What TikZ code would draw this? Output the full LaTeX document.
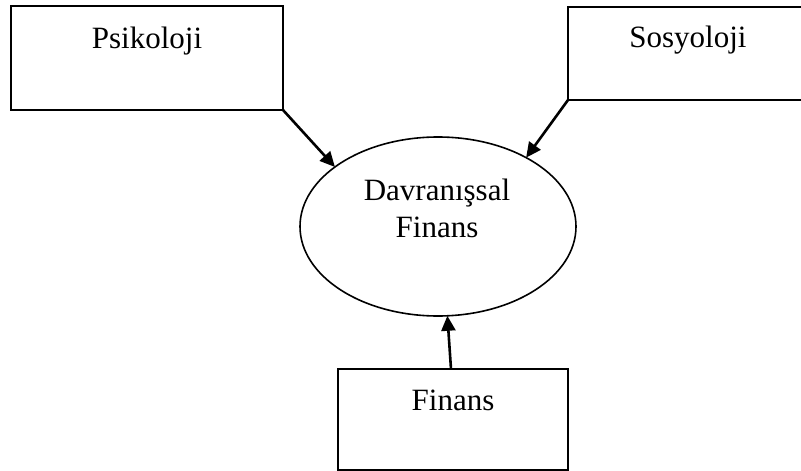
\documentclass[tikz,border=0pt]{standalone}
\usepackage{fontspec}
\setmainfont{Liberation Serif}
\usetikzlibrary{shapes.geometric,arrows.meta}
\begin{document}
\begin{tikzpicture}[x=1pt,y=-1pt,
  every node/.style={inner sep=0pt,outer sep=0pt},
  label/.style={font=\fontsize{31}{37}\selectfont,anchor=base},
  box/.style={draw,line width=2pt,rectangle},
  oval/.style={draw,line width=1.6pt,ellipse},
  link/.style={line width=2.6pt,-{Triangle[length=15pt,width=14pt]}}]
  \clip (0,0) rectangle (801,471);
  % source disciplines
  \node[box,minimum width=272,minimum height=104] (psi) at (147,58) {};
  \node[label] (psiText) at (147,48) {Psikoloji};
  \node[box,minimum width=240,minimum height=93] (sos) at (688,53.5) {};
  \node[label] (sosText) at (688,47) {Sosyoloji};
  \node[box,minimum width=230,minimum height=101] (fin) at (453,419.5) {};
  \node[label] (finText) at (453,410) {Finans};
  \coordinate (finTop) at ([xshift=-2pt]fin.north);
  % central field
  \node[oval,minimum width=276,minimum height=179] (ell) at (438,226.5) {};
  \node[label] (ellTextA) at (437,200) {Davranışsal};
  \node[label] (ellTextB) at (437,237) {Finans};
  % contributions
  \draw[link] (psi.south east) -- (ell.150.7);
  \draw[link] (sos.south west) -- (ell.38);
  \draw[link] (finTop) -- (ell.276.5);
\end{tikzpicture}
\end{document}
